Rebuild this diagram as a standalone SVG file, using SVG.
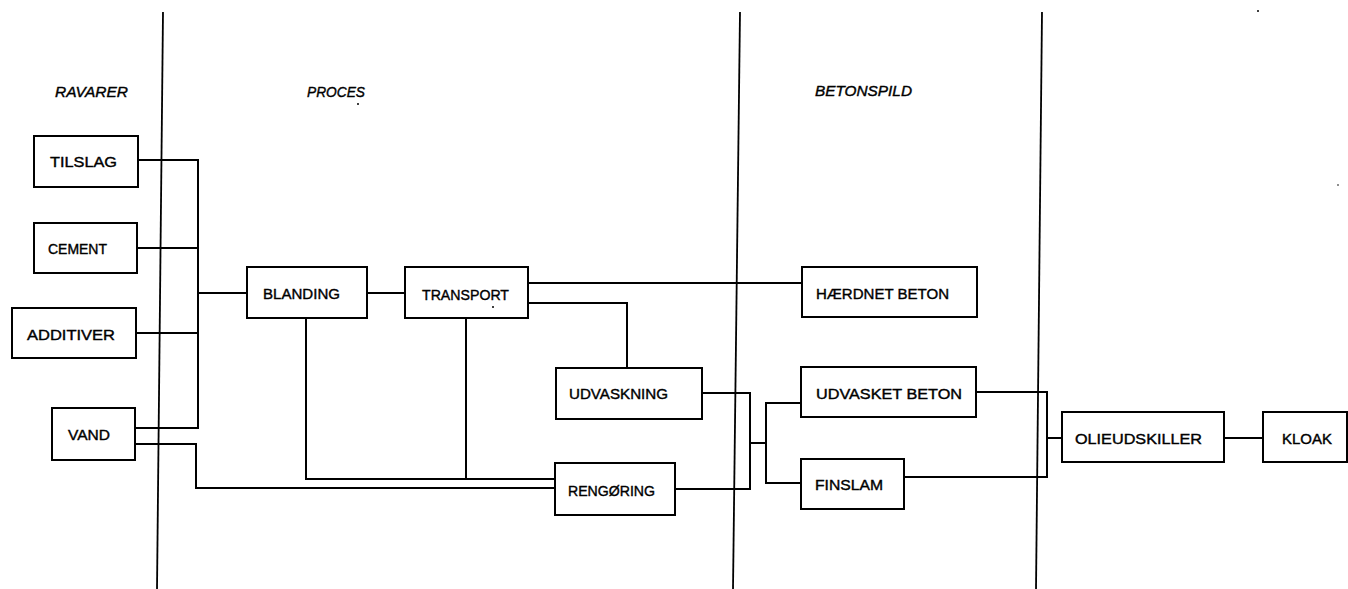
<svg xmlns="http://www.w3.org/2000/svg" width="1348" height="589" viewBox="0 0 1348 589">
<style>
.bg{fill:#ffffff}
.box{fill:none;stroke:#000;stroke-width:2}
.ln{fill:none;stroke:#000;stroke-width:2;stroke-linejoin:miter;stroke-linecap:square}
.div{fill:none;stroke:#000;stroke-width:1.8}
.t{font-family:"Liberation Sans",Arial,sans-serif;font-size:15px;fill:#000;stroke:#000;stroke-width:0.4}
.h{font-family:"Liberation Sans",Arial,sans-serif;font-size:15px;font-style:italic;fill:#000;stroke:#000;stroke-width:0.4}
.dot{fill:#000}
</style>
<rect class="bg" x="0" y="0" width="1348" height="589"/>
<g id="dividers">
<path class="div" d="M163,12 L157,589"/>
<path class="div" d="M740,12 L733,589"/>
<path class="div" d="M1042,12 L1036,589"/>
</g>
<g id="headings">
<text class="h" x="55" y="97" textLength="73" lengthAdjust="spacingAndGlyphs">RAVARER</text>
<text class="h" x="307" y="97" textLength="58" lengthAdjust="spacingAndGlyphs">PROCES</text>
<text class="h" x="815" y="96" textLength="97" lengthAdjust="spacingAndGlyphs">BETONSPILD</text>
</g>
<g id="connectors">
<path class="ln" d="M138,160 H198 V428"/>
<path class="ln" d="M137,248 H198"/>
<path class="ln" d="M136,333 H198"/>
<path class="ln" d="M135,428 H198"/>
<path class="ln" d="M198,293 H247"/>
<path class="ln" d="M135,444 H196 V488 H555"/>
<path class="ln" d="M306,318 V479 H555"/>
<path class="ln" d="M466,318 V479"/>
<path class="ln" d="M367,293 H405"/>
<path class="ln" d="M528,283 H802"/>
<path class="ln" d="M528,303 H627 V368"/>
<path class="ln" d="M702,393 H750 V489 H675"/>
<path class="ln" d="M750,443 H766"/>
<path class="ln" d="M801,403 H766 V483 H801"/>
<path class="ln" d="M976,392 H1047 V477 H904"/>
<path class="ln" d="M1047,438 H1062"/>
<path class="ln" d="M1224,438 H1263"/>
</g>
<g id="tilslag">
<rect class="box" x="34" y="136" width="104" height="51"/>
<text class="t" x="50" y="167" textLength="67" lengthAdjust="spacingAndGlyphs">TILSLAG</text>
</g>
<g id="cement">
<rect class="box" x="34" y="223" width="103" height="50"/>
<text class="t" x="48" y="254" textLength="59" lengthAdjust="spacingAndGlyphs">CEMENT</text>
</g>
<g id="additiver">
<rect class="box" x="12" y="308" width="124" height="50"/>
<text class="t" x="27" y="340" textLength="88" lengthAdjust="spacingAndGlyphs">ADDITIVER</text>
</g>
<g id="vand">
<rect class="box" x="52" y="408" width="83" height="52"/>
<text class="t" x="68" y="440" textLength="42" lengthAdjust="spacingAndGlyphs">VAND</text>
</g>
<g id="blanding">
<rect class="box" x="247" y="267" width="120" height="51"/>
<text class="t" x="263" y="299" textLength="77" lengthAdjust="spacingAndGlyphs">BLANDING</text>
</g>
<g id="transport">
<rect class="box" x="405" y="267" width="123" height="51"/>
<text class="t" x="422" y="300" textLength="87" lengthAdjust="spacingAndGlyphs">TRANSPORT</text>
</g>
<g id="udvaskning">
<rect class="box" x="556" y="368" width="146" height="51"/>
<text class="t" x="569" y="399" textLength="99" lengthAdjust="spacingAndGlyphs">UDVASKNING</text>
</g>
<g id="rengoring">
<rect class="box" x="555" y="463" width="120" height="52"/>
<text class="t" x="568" y="496" textLength="87" lengthAdjust="spacingAndGlyphs">RENGØRING</text>
</g>
<g id="haerdnet-beton">
<rect class="box" x="802" y="267" width="175" height="50"/>
<text class="t" x="816" y="299" textLength="133" lengthAdjust="spacingAndGlyphs">HÆRDNET BETON</text>
</g>
<g id="udvasket-beton">
<rect class="box" x="801" y="367" width="175" height="50"/>
<text class="t" x="816" y="399" textLength="146" lengthAdjust="spacingAndGlyphs">UDVASKET BETON</text>
</g>
<g id="finslam">
<rect class="box" x="801" y="459" width="103" height="50"/>
<text class="t" x="815" y="490" textLength="68" lengthAdjust="spacingAndGlyphs">FINSLAM</text>
</g>
<g id="olieudskiller">
<rect class="box" x="1062" y="412" width="162" height="50"/>
<text class="t" x="1075" y="444" textLength="127" lengthAdjust="spacingAndGlyphs">OLIEUDSKILLER</text>
</g>
<g id="kloak">
<rect class="box" x="1263" y="412" width="84" height="50"/>
<text class="t" x="1282" y="444" textLength="50" lengthAdjust="spacingAndGlyphs">KLOAK</text>
</g>
<g id="specks">
<circle class="dot" cx="1258" cy="11" r="1"/>
<circle class="dot" cx="358" cy="104" r="1"/>
<circle class="dot" cx="493" cy="307" r="1"/>
<circle class="dot" cx="1338" cy="185" r="0.8"/>
</g>
</svg>
